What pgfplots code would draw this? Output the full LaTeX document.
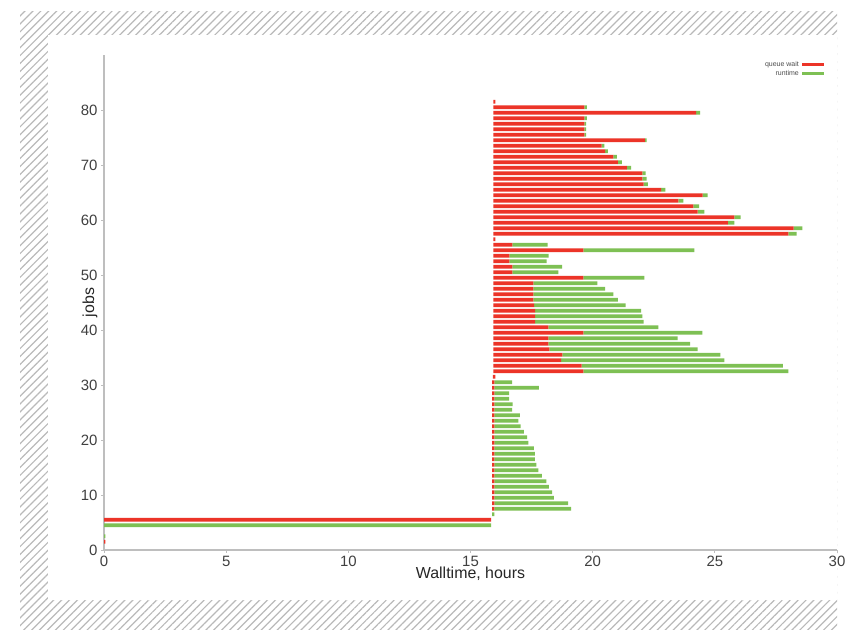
\documentclass[border=0pt]{standalone}
\usepackage{fontspec}
\setmainfont{Liberation Sans}
\usepackage{pgfplots}
\pgfplotsset{compat=1.18}
\usepackage{pgfplotstable}
\usetikzlibrary{patterns.meta}
\definecolor{qred}{RGB}{236,52,40}
\definecolor{rgreen}{RGB}{126,192,84}
\definecolor{axgray}{RGB}{190,190,190}
\definecolor{hatchc}{RGB}{185,185,185}

\pgfplotstableread{
j start wait run
1.5 0 0.06 0
2.5 0 0 0.06
4.5 0 0 15.84
5.5 0 15.84 0
6.5 15.88 0 0.10
7.5 15.88 0.10 3.14
8.5 15.88 0.10 3.02
9.5 15.88 0.10 2.43
10.5 15.88 0.10 2.36
11.5 15.88 0.10 2.23
12.5 15.88 0.10 2.13
13.5 15.88 0.10 1.94
14.5 15.88 0.10 1.80
15.5 15.88 0.10 1.72
16.5 15.88 0.10 1.65
17.5 15.88 0.10 1.65
18.5 15.88 0.10 1.61
19.5 15.88 0.10 1.39
20.5 15.88 0.10 1.34
21.5 15.88 0.10 1.20
22.5 15.88 0.10 1.07
23.5 15.88 0.10 0.98
24.5 15.88 0.10 1.04
25.5 15.88 0.10 0.72
26.5 15.88 0.10 0.74
27.5 15.88 0.10 0.60
28.5 15.88 0.10 0.60
29.5 15.88 0.10 1.82
30.5 15.88 0.10 0.72
31.5 15.92 0.10 0
32.5 15.94 3.68 8.39
33.5 15.94 3.61 8.23
34.5 15.94 2.77 6.68
35.5 15.94 2.82 6.47
36.5 15.94 2.29 6.07
37.5 15.94 2.25 5.80
38.5 15.94 2.25 5.29
39.5 15.94 3.68 4.87
40.5 15.94 2.25 4.50
41.5 15.94 1.70 4.44
42.5 15.94 1.70 4.39
43.5 15.94 1.70 4.34
44.5 15.94 1.66 3.75
45.5 15.94 1.63 3.46
46.5 15.94 1.63 3.28
47.5 15.94 1.63 2.94
48.5 15.94 1.63 2.62
49.5 15.94 3.68 2.50
50.5 15.94 0.77 1.89
51.5 15.94 0.77 2.04
52.5 15.94 0.65 1.53
53.5 15.94 0.65 1.61
54.5 15.94 3.68 4.54
55.5 15.94 0.77 1.45
56.5 15.94 0.08 0
57.5 15.94 12.07 0.34
58.5 15.94 12.28 0.36
59.5 15.94 9.59 0.27
60.5 15.94 9.86 0.25
61.5 15.94 8.36 0.27
62.5 15.94 8.18 0.24
63.5 15.94 7.57 0.20
64.5 15.94 8.56 0.20
65.5 15.94 6.86 0.18
66.5 15.94 6.14 0.18
67.5 15.94 6.09 0.18
68.5 15.94 6.09 0.14
69.5 15.94 5.46 0.17
70.5 15.94 5.09 0.16
71.5 15.94 4.91 0.14
72.5 15.94 4.57 0.11
73.5 15.94 4.43 0.11
74.5 15.94 6.20 0.07
75.5 15.94 3.72 0.07
76.5 15.94 3.72 0.07
77.5 15.94 3.72 0.07
78.5 15.94 3.72 0.10
79.5 15.94 8.29 0.17
80.5 15.94 3.72 0.10
81.5 15.94 0.08 0
}\jobdata

\begin{document}
\begin{tikzpicture}[x=1bp,y=1bp]
\useasboundingbox (0,0) rectangle (849,630);
\fill[pattern={Lines[angle=45,distance=5.6bp,line width=1.2bp]}, pattern color=hatchc] (20,0) rectangle (837,618);
\fill[white] (48,30) rectangle (837,595);
\begin{axis}[
  at={(104bp,80bp)}, anchor=south west,
  scale only axis, width=733bp, height=495bp,
  xmin=0, xmax=30, ymin=0, ymax=90,
  xbar stacked, bar width=0.7,
  axis x line*=bottom, axis y line*=left,
  axis line style={draw=axgray, line width=1.6bp, -},
  xtick={0,5,...,30}, ytick={0,10,...,80},
  tick align=outside, major tick length=3bp,
  tick style={draw=axgray, line width=0.8bp},
  ticklabel style={font=\fontsize{15}{15}\selectfont, text=black!75},
  /pgf/number format/assume math mode=true,
  xlabel={Walltime, hours}, ylabel={jobs},
  label style={font=\fontsize{16}{16}\selectfont, text=black!85},
  xlabel style={at={(axis description cs:0.5,-0.034)}, anchor=north, inner sep=0pt},
  ylabel style={at={(axis description cs:-0.019,0.5)}, anchor=center, inner sep=0pt},
  legend style={at={(axis description cs:0.985,0.992)}, anchor=north east,
    draw=none, fill=none, font=\fontsize{7}{7}\selectfont, text=black!70,
    inner sep=0pt, row sep=-1bp, legend cell align=right},
  legend plot pos=right,
]
\addplot[draw=none, fill=none, forget plot] table[x=start, y=j]{\jobdata};
\addplot[draw=none, fill=qred, forget plot] table[x=wait, y=j]{\jobdata};
\addplot[draw=none, fill=rgreen, forget plot] table[x=run, y=j]{\jobdata};
\addlegendimage{legend image code/.code={\draw[qred, line width=3bp] (0bp,0bp) -- (22bp,0bp);}}
\addlegendentry{queue wait}
\addlegendimage{legend image code/.code={\draw[rgreen, line width=3bp] (0bp,0bp) -- (22bp,0bp);}}
\addlegendentry{runtime}
\end{axis}
\end{tikzpicture}
\end{document}
